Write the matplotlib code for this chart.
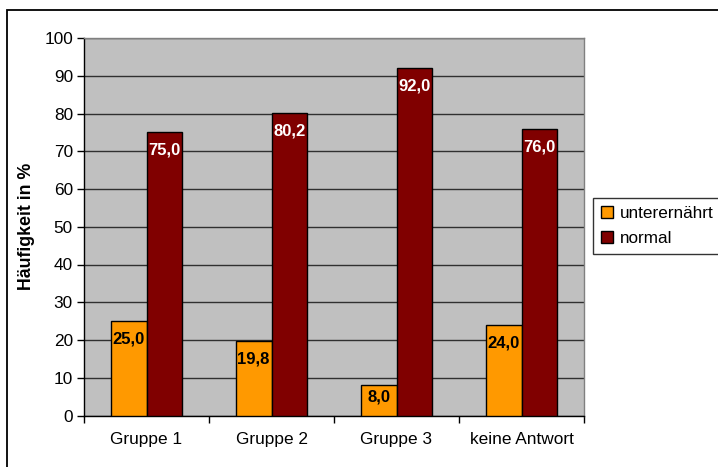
import numpy as np
import matplotlib
matplotlib.use('Agg')
import matplotlib.pyplot as plt
from matplotlib.patches import Rectangle

plt.rcParams['font.family'] = ['Liberation Sans', 'DejaVu Sans']

gruppen = ['Gruppe 1', 'Gruppe 2', 'Gruppe 3', 'keine Antwort']
unterernaehrt = [25.0, 19.8, 8.0, 24.0]
normal = [75.0, 80.2, 92.0, 76.0]
serien = ['unterernährt', 'normal']

fig = plt.figure(figsize=(7.18, 4.67), dpi=100, facecolor='w')
ax = fig.add_axes([84/718, 1 - 415.5/467, 500/718, (415.5 - 38)/467])
ax.set_facecolor('#C0C0C0')

x = np.arange(len(gruppen))
w = 0.285
b1 = ax.bar(x - w/2, unterernaehrt, w, color='#FF9900', edgecolor='black', linewidth=1, label=serien[0], zorder=3)
b2 = ax.bar(x + w/2, normal, w, color='#800000', edgecolor='black', linewidth=1, label=serien[1], zorder=3)

def fmt(v):
    return ('%.1f' % v).replace('.', ',')

# points per data unit on the y axis (377.5 px for 100 units at 100 dpi)
pt_per_unit = 377.5 / 100 * 0.72
for bars, vals, col in [(b1, unterernaehrt, 'black'), (b2, normal, 'white')]:
    for r, v in zip(bars, vals):
        off = min(13, v * pt_per_unit * 0.4)
        ax.annotate(fmt(v), (r.get_x() + r.get_width()/2, v), xytext=(0, -off),
                    textcoords='offset points', ha='center', va='center',
                    fontsize=12, fontweight='bold', color=col, zorder=4)

ax.set_xlim(-0.5, 3.5)
ax.set_ylim(0, 100)
ax.set_yticks(np.arange(0, 101, 10))
ax.yaxis.grid(True, color='#303030', linewidth=1)
ax.set_axisbelow(True)

ax.set_xticks(x)
ax.set_xticklabels(gruppen)
ax.set_xticks(np.arange(-0.5, 4, 1), minor=True)
ax.tick_params(axis='x', which='major', length=0, pad=12, labelsize=12.4)
ax.tick_params(axis='x', which='minor', length=5, direction='out', width=1)
ax.tick_params(axis='y', length=5, width=1, pad=3, labelsize=12.4)

for s in ['left', 'bottom']:
    ax.spines[s].set_color('black')
    ax.spines[s].set_linewidth(1)
for s in ['top', 'right']:
    ax.spines[s].set_color('#808080')
    ax.spines[s].set_linewidth(1)

ax.set_ylabel('Häufigkeit in %', fontsize=12.8, fontweight='bold')
ax.yaxis.set_label_coords(-(84 - 35) / 500, 0.5)

leg = fig.legend(handles=[b1, b2], loc='upper left', bbox_to_anchor=(593/718, 1 - 198/467),
                 bbox_transform=fig.transFigure, fontsize=12.3, frameon=True, fancybox=False,
                 handlelength=0.7, handleheight=0.7, handletextpad=0.4, borderpad=0.45,
                 labelspacing=0.6, borderaxespad=0)
leg.get_frame().set_edgecolor('black')
leg.get_frame().set_linewidth(1)

# outer frame around the chart
fig.patches.append(Rectangle((7/718, -0.1), 1.2, 1 - 10/467 + 0.1, transform=fig.transFigure,
                             fill=False, edgecolor='black', linewidth=1.3, clip_on=False))

fig.savefig('out.png', dpi=100)
